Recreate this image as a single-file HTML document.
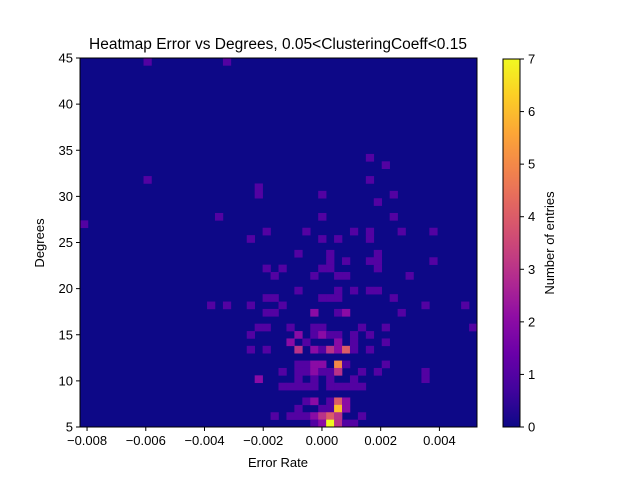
<!DOCTYPE html>
<html><head><meta charset="utf-8"><style>
body{margin:0;background:#fff;}
svg{display:block;font-family:"Liberation Sans","DejaVu Sans",sans-serif;}
</style></head><body>
<svg id="chart" width="640" height="480" xmlns="http://www.w3.org/2000/svg">
<defs><linearGradient id="cbgrad" x1="0" y1="1" x2="0" y2="0"></linearGradient></defs>
<text x="278" y="49" font-size="15.5" text-anchor="middle" fill="#000">Heatmap Error vs Degrees, 0.05&lt;ClusteringCoeff&lt;0.15</text>
<g id="plot"></g>
<g id="axes"></g>
<text x="278" y="467" font-size="13" text-anchor="middle">Error Rate</text>
<text x="0" y="0" font-size="13" text-anchor="middle" transform="translate(44,243) rotate(-90)">Degrees</text>
<g id="cbar"></g>
<text x="0" y="0" font-size="13" text-anchor="middle" transform="translate(554,243) rotate(-90)">Number of entries</text>
</svg>
<script>
// bin grid: 50 x 50 bins
const xMin = -0.00824, xMax = 0.00528, nX = 50;
const yMin = 5, yMax = 45, nY = 50;
const xTickValues = [-0.008, -0.006, -0.004, -0.002, 0.000, 0.002, 0.004];
const xTickLabels = ["\u22120.008","\u22120.006","\u22120.004","\u22120.002","0.000","0.002","0.004"];
const yTickValues = [5,10,15,20,25,30,35,40,45];
const cbTicks = [0,1,2,3,4,5,6,7];
// non-zero cells: column index, row index, count
const cellCols = [8,18,36,38,8,36,22,22,17,0,23,21,23,25,24,23,24,16,18,21,25,23,24,22,23,21,21,23,25,22,25,24,
 30,39,37,30,39,28,34,36,40,44,30,32,36,27,31,37,31,33,36,37,44,30,31,37,29,32,33,41,27,32,34,36,37,30,31,32,39,43,48,
 29,32,33,40,26,29,30,35,38,49,27,29,30,31,32,34,36,26,28,32,34,38,27,29,30,31,32,33,34,36,
 27,28,29,30,32,33,38,27,28,29,30,31,32,35,37,43,27,29,31,34,43,26,27,28,29,31,32,33,34,35,
 28,29,31,32,33,27,30,31,32,33,26,27,28,29,30,31,32,35,29,30,31,32,33,34];
const cellRows = [49,49,36,35,33,33,32,31,28,27,26,25,21,21,20,17,17,16,16,16,16,15,15,13,13,12,10,10,7,6,5,1,
 31,31,30,28,28,26,26,26,26,26,25,25,25,23,23,23,22,22,22,22,22,21,21,21,20,20,20,20,18,18,18,18,18,17,17,17,17,16,16,
 15,15,15,15,13,13,13,13,13,13,12,12,12,12,12,12,12,11,11,11,11,11,10,10,10,10,10,10,10,10,
 8,8,8,8,8,8,8,7,7,7,7,7,7,7,7,7,6,6,6,6,6,5,5,5,5,5,5,5,5,5,
 3,3,3,3,3,2,2,2,2,2,1,1,1,1,1,1,1,1,0,0,0,0,0,0];
const cellCounts = [1,1,1,1,1,1,1,1,1,1,1,1,1,1,1,1,1,1,1,1,1,1,1,1,1,1,1,1,1,2,1,1,
 1,1,1,1,1,1,1,1,1,1,1,1,1,1,1,1,1,1,1,1,1,1,1,1,1,1,1,1,1,1,1,1,1,1,1,1,1,1,1,
 2,1,2,1,1,1,1,1,1,1,2,1,2,1,1,1,1,2,1,2,1,1,3,2,1,3,2,4,1,1,
 1,1,2,2,5,1,1,1,1,2,1,1,3,1,1,1,1,1,1,1,1,1,1,1,1,1,1,1,1,1,
 1,2,1,4,2,1,1,1,6,2,1,1,1,2,3,4,3,1,1,2,7,3,1,1];
const cMax = 7;

const PX0=80, PX1=477, PY0=58, PY1=427;
function xs(v){return PX0+(v-xMin)/(xMax-xMin)*(PX1-PX0);}
function ys(v){return PY1-(v-yMin)/(yMax-yMin)*(PY1-PY0);}
const plasma=["#0d0887","#41049d","#6a00a8","#8f0da4","#b12a90","#cc4778","#e16462","#f2844b","#fca636","#fcce25","#f0f921"];
function hex(h){return [1,3,5].map(i=>parseInt(h.substr(i,2),16));}
function cmap(t){t=Math.max(0,Math.min(1,t));const p=t*10,i=Math.min(9,Math.floor(p)),f=p-i;
 const a=hex(plasma[i]),b=hex(plasma[i+1]);return "rgb("+a.map((v,k)=>Math.round(v+(b[k]-v)*f)).join(",")+")";}
const NS="http://www.w3.org/2000/svg";
function mk(tag,attrs,parent){const e=document.createElementNS(NS,tag);for(const k in attrs)e.setAttribute(k,attrs[k]);parent.appendChild(e);return e;}
const plot=document.getElementById('plot'), axes=document.getElementById('axes'), cbar=document.getElementById('cbar');
const bg=mk('rect',{x:PX0,y:PY0,width:PX1-PX0,height:PY1-PY0,fill:cmap(0)},plot);


const dx=(xMax-xMin)/nX, dy=(yMax-yMin)/nY;
for(let i=0;i<cellCols.length;i++){
 const x0=xs(xMin+cellCols[i]*dx), x1=xs(xMin+(cellCols[i]+1)*dx);
 const y0=ys(yMin+(cellRows[i]+1)*dy), y1=ys(yMin+cellRows[i]*dy);
 const r=mk('rect',{x:x0,y:y0,width:x1-x0+0.3,height:y1-y0+0.3,fill:cmap(cellCounts[i]/cMax)},plot);
 
 
}
const frame=mk('rect',{x:PX0,y:PY0,width:PX1-PX0,height:PY1-PY0,fill:'none',stroke:'#000','stroke-width':1},axes);


xTickValues.forEach((v,i)=>{const x=xs(v);
 mk('line',{x1:x,x2:x,y1:PY1,y2:PY1+4,stroke:'#000'},axes);
 const t=mk('text',{x:x,y:PY1+18,'font-size':13,'text-anchor':'middle'},axes);t.textContent=xTickLabels[i];
 
 
});
yTickValues.forEach(v=>{const y=ys(v);
 mk('line',{x1:PX0-4,x2:PX0,y1:y,y2:y,stroke:'#000'},axes);
 const t=mk('text',{x:PX0-7,y:y+4.5,'font-size':13,'text-anchor':'end'},axes);t.textContent=v;
 
 
});
const g=document.getElementById('cbgrad');
for(let i=0;i<=20;i++)mk('stop',{offset:(i/20),'stop-color':cmap(i/20)},g);
const CX0=503,CX1=520,CY0=59,CY1=427;
const cb=mk('rect',{x:CX0,y:CY0,width:CX1-CX0,height:CY1-CY0,fill:'url(#cbgrad)',stroke:'#000','stroke-width':1},cbar);


cbTicks.forEach(v=>{const y=CY1-v/cMax*(CY1-CY0);
 mk('line',{x1:CX1,x2:CX1+4,y1:y,y2:y,stroke:'#000'},cbar);
 const t=mk('text',{x:CX1+8,y:y+4.5,'font-size':13},cbar);t.textContent=v;
 
 
});
</script>
</body></html>
